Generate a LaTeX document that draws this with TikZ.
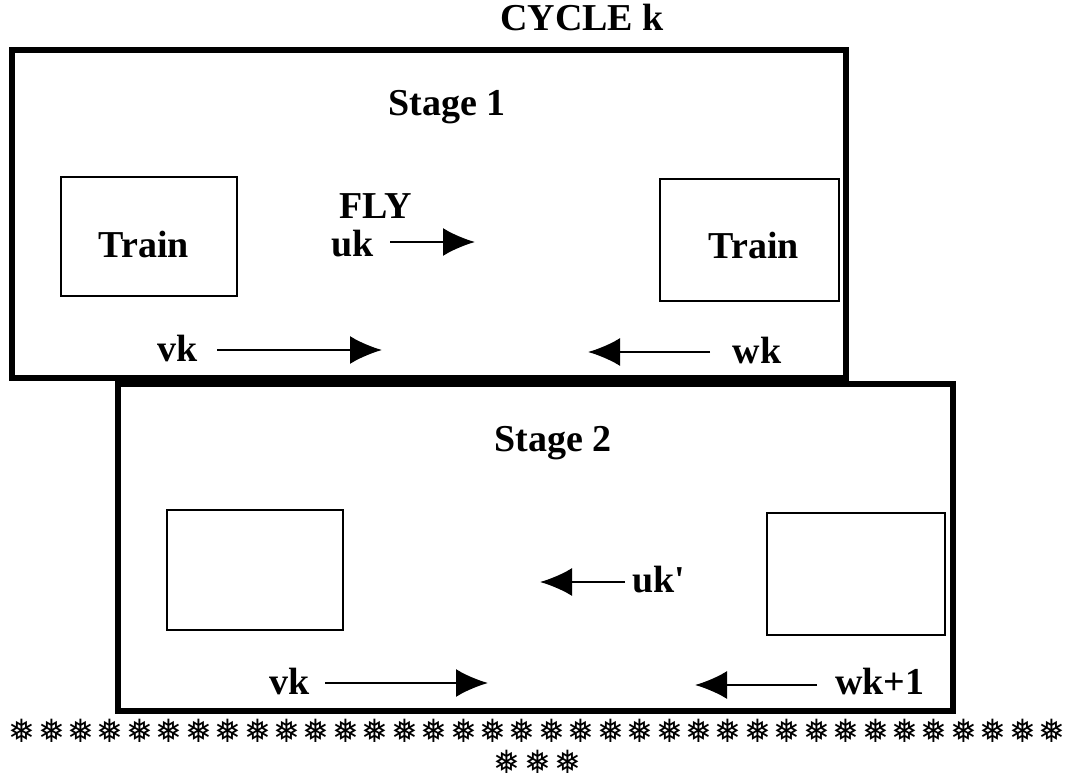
\documentclass[tikz,border=0pt]{standalone}
\usepackage{fontspec}
\setmainfont{Liberation Serif}
\newfontfamily\flakefont{DejaVu Sans}
\usetikzlibrary{arrows.meta}
\begin{document}
\begin{tikzpicture}[x=1pt,y=-1pt,
  lbl/.style={font=\fontsize{38}{42}\selectfont\bfseries, inner sep=0pt, anchor=base},
  bigbox/.style={draw, line width=6pt, inner sep=0pt},
  smallbox/.style={draw, line width=2.5pt, inner sep=0pt},
  arr/.style={line width=2.5pt, -{Latex[length=32pt,width=28pt]}},
  flake/.style={font=\flakefont\fontsize{32}{34}\selectfont, inner sep=0pt}]
\useasboundingbox (0,0) rectangle (1065,781);
% frames
\node[bigbox, minimum width=834pt, minimum height=328pt] (stage1) at (429,214) {};
\node[bigbox, minimum width=835pt, minimum height=327pt] (stage2) at (535.5,547.5) {};
% small boxes
\node[smallbox, minimum width=176pt, minimum height=119pt] (tl) at (149,236.5) {};
\node[smallbox, minimum width=179pt, minimum height=122pt] (tr) at (749.5,240) {};
\node[smallbox, minimum width=176pt, minimum height=120pt] (bl) at (255,570) {};
\node[smallbox, minimum width=178pt, minimum height=122pt] (br) at (856,574) {};
% labels
\node[lbl] (title) at (582,31) {CYCLE k};
\node[lbl] (s1) at (447,116) {Stage 1};
\node[lbl] (trainL) at (144,257) {Train};
\node[lbl] (trainR) at (754,258) {Train};
\node[lbl] (fly) at (376,218) {FLY};
\node[lbl] (uk) at (353,256) {uk};
\node[lbl] (vk1) at (178,361) {vk};
\node[lbl] (wk) at (757,363) {wk};
\node[lbl] (s2) at (553,451) {Stage 2};
\node[lbl] (ukp) at (659,592) {uk\textquotesingle};
\node[lbl] (vk2) at (290,694) {vk};
\node[lbl] (wk1) at (880,694) {wk+1};
% arrow end points
\coordinate (a1s) at (390,242); \coordinate (a1e) at (475,242);
\coordinate (a2s) at (217,350); \coordinate (a2e) at (382,350);
\coordinate (a3s) at (710,352); \coordinate (a3e) at (588,352);
\coordinate (a4s) at (625,582); \coordinate (a4e) at (540,582);
\coordinate (a5s) at (325,683); \coordinate (a5e) at (488,683);
\coordinate (a6s) at (817,685); \coordinate (a6e) at (695,685);
\draw[arr] (a1s) -- (a1e);
\draw[arr] (a2s) -- (a2e);
\draw[arr] (a3s) -- (a3e);
\draw[arr] (a4s) -- (a4e);
\draw[arr] (a5s) -- (a5e);
\draw[arr] (a6s) -- (a6e);
% snowflake rows
\foreach \i in {0,...,35}
  \node[flake] (f\i) at ({22+29.43*\i},731) {❅};
\foreach \i/\x in {0/507,1/538,2/568}
  \node[flake] (g\i) at (\x,762) {❅};
\end{tikzpicture}
\end{document}
